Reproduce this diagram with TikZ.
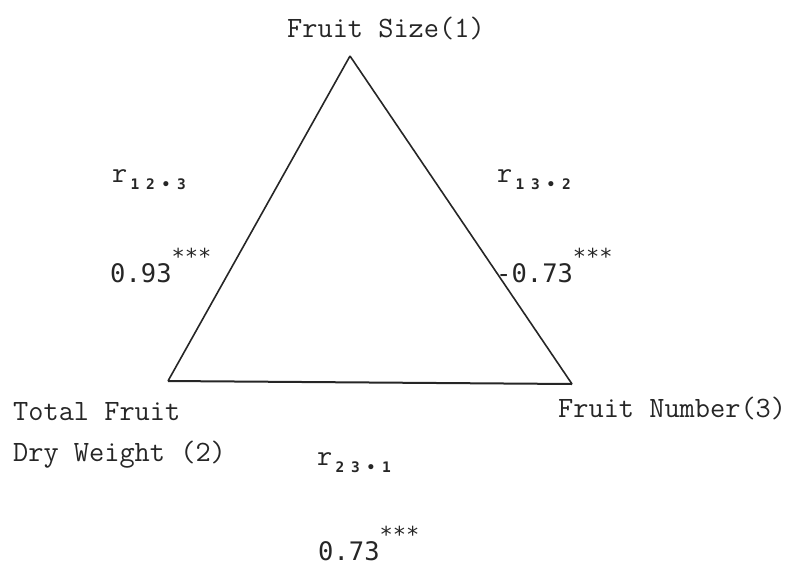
\documentclass[tikz,border=0pt]{standalone}
\usepackage{fontspec}
\newfontfamily\twfont{Latin Modern Mono}
\newfontfamily\numfont{DejaVu Sans Mono}
\newcommand\tw{\twfont\fontsize{29.5}{29.5}\selectfont}
\newcommand\nm{\numfont\fontsize{25.5}{25.5}\selectfont}
\newcommand\stars{\raisebox{18pt}{\numfont\fontsize{22}{22}\selectfont ***}}
\newcommand\subcell[1]{\makebox[15.5pt]{#1}}
\newcommand\rlab[3]{\makebox[15pt][l]{\tw r}\raisebox{-7pt}{\numfont\bfseries\fontsize{14.5}{14.5}\selectfont\subcell{#1}\subcell{#2}\subcell{\textbullet}\subcell{#3}}}
\begin{document}
\begin{tikzpicture}[x=1pt,y=-1pt,
  lab/.style={anchor=base west,inner sep=0pt,text=black!85},
  side/.style={line width=1.6pt,draw=black!85,line join=round}]
\useasboundingbox (0,0) rectangle (795,568);
\coordinate (A) at (350,56);
\coordinate (B) at (168,381);
\coordinate (C) at (572,384);
\draw[side] (A) -- (B);
\draw[side] (A) -- (C);
\draw[side,line width=2pt] (B) -- (C);
\node[lab] (n1) at (287,37) {\tw Fruit Size(1)};
\node[lab] (r12) at (112,182) {\rlab{1}{2}{3}};
\node[lab] (r13) at (497,182) {\rlab{1}{3}{2}};
\node[lab] (v12) at (110,282) {\nm 0.93\stars};
\node[lab] (v13) at (496,282) {\nm -0.73\stars};
\node[lab] (n2a) at (13,420) {\tw Total Fruit};
\node[lab] (n2b) at (13,461) {\tw Dry Weight (2)};
\node[lab] (n3) at (558,417) {\tw Fruit Number(3)};
\node[lab] (r23) at (317,465) {\rlab{2}{3}{1}};
\node[lab] (v23) at (318,560) {\nm 0.73\stars};
\end{tikzpicture}
\end{document}
